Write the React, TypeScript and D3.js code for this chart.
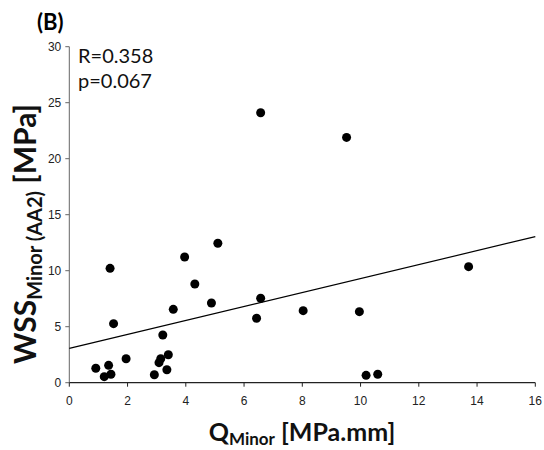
import React from "react";
import * as d3 from "d3";

const xValues = [0.91, 1.2, 1.35, 1.43, 1.52, 1.95, 2.92, 3.08, 3.14, 3.21, 3.4, 3.35, 3.57, 4.31, 4.88, 6.43, 6.57, 1.4, 3.96, 5.1, 6.57, 9.52, 8.03, 9.96, 10.19, 10.59, 13.71];
const yValues = [1.29, 0.54, 1.55, 0.75, 5.27, 2.14, 0.71, 1.79, 2.14, 4.26, 2.5, 1.16, 6.55, 8.81, 7.12, 5.75, 7.54, 10.21, 11.22, 12.45, 24.1, 21.9, 6.43, 6.34, 0.66, 0.75, 10.36];
const xTicks = [0, 2, 4, 6, 8, 10, 12, 14, 16];
const yTicks = [0, 5, 10, 15, 20, 25, 30];
const trendIntercept = 3.07;
const trendSlope = 0.623;
const statLines = ["R=0.358", "p=0.067"];

const W = 544, H = 450;
const left = 69.3, right = 535.3, top = 46.7, bottom = 382.7;

export default function App() {
  const x = d3.scaleLinear().domain([0, 16]).range([left, right]);
  const y = d3.scaleLinear().domain([0, 30]).range([bottom, top]);
  const line = d3.line<number>().x((d) => x(d)).y((d) => y(trendIntercept + trendSlope * d));
  const axisColor = "#666";
  const tickFont = "'Liberation Sans', Arial, sans-serif";
  const titleFont = "Lato, 'Open Sans', sans-serif";
  return (
    <svg width={W} height={H} style={{ position: "absolute", left: 0, top: 0, background: "#fff" }}>
      <text x={37} y={30} fontFamily={titleFont} fontWeight="bold" fontSize={22}>(B)</text>
      {/* axes */}
      <line x1={left} x2={left} y1={top} y2={bottom} stroke={axisColor} strokeWidth={1} />
      <line x1={left} x2={right} y1={bottom} y2={bottom} stroke="#222" strokeWidth={1.2} />
      {yTicks.map((t) => (
        <g key={"y" + t}>
          <line x1={left - 4} x2={left} y1={y(t)} y2={y(t)} stroke={axisColor} />
          <text x={left - 8} y={y(t)} dy="0.35em" textAnchor="end" fontFamily={tickFont} fontSize={12} fill="#222">{t}</text>
        </g>
      ))}
      {xTicks.map((t) => (
        <g key={"x" + t}>
          <line x1={x(t)} x2={x(t)} y1={bottom} y2={bottom + 4} stroke="#222" />
          <text x={x(t)} y={bottom + 22} textAnchor="middle" fontFamily={tickFont} fontSize={12} fill="#222">{t}</text>
        </g>
      ))}
      {/* trend line */}
      <path d={line([0, 16]) || ""} fill="none" stroke="#000" strokeWidth={1.2} />
      {/* points */}
      {xValues.map((v, i) => (
        <circle key={i} cx={x(v)} cy={y(yValues[i])} r={4.5} fill="#000" />
      ))}
      {/* stats */}
      {statLines.map((s, i) => (
        <text key={s} x={78} y={63 + i * 25} fontFamily={titleFont} fontSize={20} fill="#111">{s}</text>
      ))}
      {/* x title */}
      <text x={302} y={441} textAnchor="middle" fontFamily={titleFont} fontWeight="bold" fill="#111">
        <tspan fontSize={25}>Q</tspan>
        <tspan fontSize={17} dy={4}>Minor</tspan>
        <tspan fontSize={25} dy={-4}> [MPa.mm]</tspan>
      </text>
      {/* y title */}
      <text transform={`translate(36,${234}) rotate(-90)`} textAnchor="middle" fontFamily={titleFont} fontWeight="bold" fill="#111">
        <tspan fontSize={30}>WSS</tspan>
        <tspan fontSize={20} dy={6}>Minor (AA2)</tspan>
        <tspan fontSize={30} dy={-6}> [MPa]</tspan>
      </text>
    </svg>
  );
}
